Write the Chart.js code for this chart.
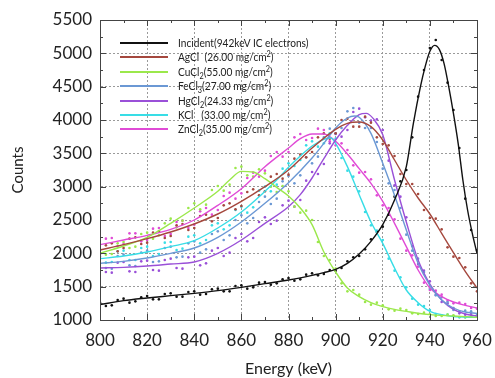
<!DOCTYPE html>
<html><head><meta charset="utf-8">
<script src="https://cdn.jsdelivr.net/npm/chart.js@4.4.1/dist/chart.umd.min.js"></script>
<style>
html,body{margin:0;padding:0;background:#fff;}
#wrap{position:relative;width:495px;height:378px;}
#legend{position:absolute;left:120px;top:36px;font-family:Lato,"DejaVu Sans",sans-serif;font-size:11.8px;color:#222;}
.row{height:14.4px;line-height:14.4px;white-space:nowrap;}
.sw{display:inline-block;width:48px;height:2px;margin-right:10px;vertical-align:middle;position:relative;top:-1px;}
.tx{display:inline-block;transform:scaleX(0.86);transform-origin:0 50%;}
.sb{font-size:8.5px;position:relative;top:3px;}
.sp{font-size:8.5px;position:relative;top:-4px;}
</style></head><body>
<div id="wrap"><canvas id="c" width="495" height="378"></canvas>
<div id="legend">
<div class="row"><span class="sw" style="background:#111"></span><span class="tx">Incident(942keV IC electrons)</span></div>
<div class="row"><span class="sw" style="background:#a5483e"></span><span class="tx">AgCl&nbsp; (26.00 mg/cm<span class="sp">2</span>)</span></div>
<div class="row"><span class="sw" style="background:#9be84b"></span><span class="tx">CuCl<span class="sb">2</span>(55.00 mg/cm<span class="sp">2</span>)</span></div>
<div class="row"><span class="sw" style="background:#6b98d4"></span><span class="tx">FeCl<span class="sb">3</span>(27.00 mg/cm<span class="sp">2</span>)</span></div>
<div class="row"><span class="sw" style="background:#9a50d8"></span><span class="tx">HgCl<span class="sb">2</span>(24.33 mg/cm<span class="sp">2</span>)</span></div>
<div class="row"><span class="sw" style="background:#38dde6"></span><span class="tx">KCl&nbsp;&nbsp; (33.00 mg/cm<span class="sp">2</span>)</span></div>
<div class="row"><span class="sw" style="background:#e04bd6"></span><span class="tx">ZnCl<span class="sb">2</span>(35.00 mg/cm<span class="sp">2</span>)</span></div>
</div></div>
<script>
// ---- fitted curves (energy in keV, counts) ----
const incidentEnergy = [800,810,820,830,840,850,860,870,880,890,895,900,905,910,915,920,925,930,933,936,938,940,942,944,946,948,950,952,954,956,958,960];
const incidentCounts = [1230,1290,1330,1365,1400,1440,1490,1545,1600,1670,1710,1760,1850,1990,2180,2430,2800,3300,3950,4500,4800,5030,5120,5060,4850,4500,4100,3650,3100,2650,2300,2000];

const agclEnergy = [800,810,820,830,840,850,860,870,880,890,900,905,910,915,920,925,930,935,940,945,950,955,960];
const agclCounts = [2050,2130,2220,2320,2440,2590,2780,3000,3250,3580,3860,3950,3970,3900,3700,3400,3100,2830,2590,2300,2010,1730,1480];

const cucl2Energy = [800,810,820,830,840,850,855,860,865,870,875,880,885,890,895,900,905,910,915,920,925,930,940,950,960];
const cucl2Counts = [2000,2110,2240,2450,2680,2930,3100,3230,3220,3120,2990,2860,2680,2430,2020,1720,1480,1350,1260,1200,1160,1130,1080,1060,1040];

const fecl3Energy = [800,810,820,830,840,850,860,870,880,890,895,900,905,908,910,915,920,925,930,935,940,945,950,955,960];
const fecl3Counts = [1850,1880,1930,2000,2080,2240,2470,2750,3060,3430,3650,3880,4030,4060,4040,3800,3350,2870,2350,1850,1520,1300,1180,1120,1100];

const hgcl2Energy = [800,810,820,830,840,850,860,870,880,885,890,895,900,905,910,913,916,920,925,930,935,940,945,950,955,960];
const hgcl2Counts = [1780,1790,1810,1840,1870,2000,2200,2450,2700,2880,3130,3420,3700,3920,4080,4100,4020,3780,3100,2470,1900,1540,1300,1160,1090,1060];

const kclEnergy = [800,810,820,830,840,850,860,870,875,880,885,890,895,898,900,905,910,915,920,925,930,935,940,945,950,960];
const kclCounts = [1920,1960,2020,2100,2190,2380,2620,2930,3100,3290,3460,3610,3710,3730,3650,3300,2880,2470,2150,1780,1450,1260,1130,1080,1050,1040];

const zncl2Energy = [800,810,820,830,840,850,860,870,880,885,890,895,900,905,910,915,920,925,930,935,940,945,950,955,960];
const zncl2Counts = [2130,2200,2270,2360,2500,2720,2970,3300,3580,3720,3790,3790,3680,3490,3270,3050,2780,2450,2100,1750,1480,1350,1270,1220,1180];

// ---- measured points, set A (half-step energies) ----
const measEnergyA = [802.5,807.5,812.5,817.5,822.5,827.5,832.5,837.5,842.5,847.5,852.5,857.5,862.5,867.5,872.5,877.5,882.5,887.5,892.5,897.5,902.5,907.5,912.5,917.5,922.5,927.5,932.5,937.5,942.5,947.5,952.5,957.5];
const incidentMeasA = [1210,1300,1260,1340,1310,1390,1350,1420,1380,1460,1430,1510,1470,1560,1530,1610,1590,1680,1670,1750,1780,1940,2060,2320,2580,3080,3740,4750,5200,4560,3580,2350];
const agclMeasA = [2120,2030,2220,2140,2310,2230,2420,2350,2560,2480,2720,2660,2920,2870,3150,3120,3420,3440,3740,3720,4000,3900,4050,3740,3620,3190,3040,2650,2520,2090,1930,1550];
const cucl2MeasA = [1980,2150,2080,2290,2220,2450,2390,2680,2660,2950,2940,3280,3170,3260,3000,3010,2700,2640,2170,1900,1550,1450,1270,1260,1160,1170,1100,1110,1060,1080,1045,1060];
const fecl3MeasA = [1780,1960,1820,2010,1870,2080,1940,2150,2010,2290,2200,2500,2450,2770,2740,3080,3050,3440,3450,3870,3880,4180,3880,3670,3050,2680,2040,1720,1370,1270,1130,1130];
const hgcl2MeasA = [1720,1860,1730,1880,1750,1900,1780,1940,1820,2040,1960,2230,2180,2470,2440,2720,2700,3090,3190,3650,3750,4120,4040,4010,3390,2850,2110,1740,1380,1250,1100,1090];
const kclMeasA = [1860,2030,1900,2080,1960,2160,2050,2250,2150,2420,2360,2650,2610,2940,2930,3270,3310,3620,3600,3800,3430,3150,2620,2340,1920,1640,1320,1210,1090,1080,1040,1050];
const zncl2MeasA = [2220,2110,2300,2180,2370,2260,2470,2380,2630,2580,2860,2820,3130,3150,3460,3450,3740,3700,3870,3680,3650,3320,3220,2870,2680,2220,1970,1560,1440,1290,1260,1180];

// ---- measured points, set B (whole-step energies) ----
const measEnergyB = [800,805,810,815,820,825,830,835,840,845,850,855,860,865,870,875,880,885,890,895,900,905,910,915,920,925,930,935,940,945,950,955,960];
const incidentMeasB = [1260,1220,1320,1280,1360,1310,1400,1350,1430,1390,1470,1430,1520,1490,1570,1550,1630,1610,1700,1690,1740,1880,1960,2210,2400,2850,3250,4350,5080,4900,4150,2820,2050];
const agclMeasB = [1990,2150,2080,2240,2160,2330,2260,2440,2380,2580,2530,2750,2710,2960,2930,3190,3180,3480,3520,3800,3800,4020,3900,3960,3640,3460,3040,2890,2530,2360,1950,1790,1430];
const cucl2MeasB = [2060,1990,2170,2100,2310,2270,2520,2490,2750,2730,3010,3030,3300,3150,3200,2920,2930,2610,2500,1960,1770,1430,1380,1230,1220,1140,1150,1090,1090,1060,1070,1040,1050];
const fecl3MeasB = [1950,1770,1980,1810,2040,1880,2100,1950,2180,2060,2330,2270,2570,2530,2850,2820,3160,3170,3350,3740,3800,4130,3960,3880,3270,2950,2280,1920,1470,1340,1150,1140,1090];
const hgcl2MeasB = [1850,1710,1870,1720,1890,1740,1920,1770,1950,1850,2080,2010,2290,2230,2540,2490,2790,2800,3220,3340,3790,3850,4170,3990,3850,3020,2540,1840,1580,1270,1180,1080,1070];
const kclMeasB = [2000,1870,2040,1900,2100,1990,2170,2070,2270,2200,2450,2420,2700,2690,3000,3030,3350,3400,3680,3650,3720,3240,2930,2420,2200,1740,1490,1230,1150,1070,1060,1040,1050];
const zncl2MeasB = [2060,2230,2140,2300,2200,2380,2290,2490,2430,2680,2650,2910,2900,3210,3240,3520,3520,3790,3730,3850,3620,3550,3210,3110,2720,2510,2040,1800,1450,1380,1250,1240,1170];

const seriesNames = ['Incident','AgCl','CuCl2','FeCl3','HgCl2','KCl','ZnCl2'];
const seriesColors = ['#111111','#a5483e','#9be84b','#6b98d4','#9a50d8','#38dde6','#e04bd6'];
const xTicks = [800,820,840,860,880,900,920,940,960];
const yTicks = [1000,1500,2000,2500,3000,3500,4000,4500,5000,5500];

const fits = [[incidentEnergy,incidentCounts],[agclEnergy,agclCounts],[cucl2Energy,cucl2Counts],[fecl3Energy,fecl3Counts],[hgcl2Energy,hgcl2Counts],[kclEnergy,kclCounts],[zncl2Energy,zncl2Counts]];
const measA = [incidentMeasA,agclMeasA,cucl2MeasA,fecl3MeasA,hgcl2MeasA,kclMeasA,zncl2MeasA];
const measB = [incidentMeasB,agclMeasB,cucl2MeasB,fecl3MeasB,hgcl2MeasB,kclMeasB,zncl2MeasB];

const datasets = [];
fits.forEach((f,i)=>{
  datasets.push({label:seriesNames[i]+' fit', data:f[0].map((e,k)=>({x:e,y:f[1][k]})), showLine:true,
    borderColor:seriesColors[i], borderWidth:1.4, pointRadius:0, tension:0.4, cubicInterpolationMode:'monotone', fill:false});
});
[[measEnergyA,measA],[measEnergyB,measB]].forEach(([en,set])=>{
  set.forEach((m,i)=>{
    datasets.push({label:seriesNames[i]+' data', data:en.map((e,k)=>({x:e,y:m[k]})), showLine:false,
      pointRadius:1.3, pointBackgroundColor:seriesColors[i], pointBorderWidth:0, borderColor:seriesColors[i]});
  });
});

const frameTicks = {
  id:'frameTicks',
  afterDatasetsDraw(chart){
    const {ctx, chartArea:a, scales:{x,y}} = chart;
    ctx.save();
    ctx.strokeStyle='#444'; ctx.lineWidth=1;
    ctx.strokeRect(Math.round(a.left)+0.5, Math.round(a.top)+0.5, Math.round(a.right-a.left), Math.round(a.bottom-a.top));
    ctx.beginPath();
    for(let e=x.min+10;e<x.max;e+=10){
      const px=Math.round(x.getPixelForValue(e))+0.5, L=(e%20===0)?6:3;
      ctx.moveTo(px,a.bottom); ctx.lineTo(px,a.bottom-L);
      ctx.moveTo(px,a.top); ctx.lineTo(px,a.top+L);
    }
    for(let c=y.min+250;c<y.max;c+=250){
      const py=Math.round(y.getPixelForValue(c))+0.5, L=(c%500===0)?6:3;
      ctx.moveTo(a.left,py); ctx.lineTo(a.left+L,py);
      ctx.moveTo(a.right,py); ctx.lineTo(a.right-L,py);
    }
    ctx.stroke();
    ctx.restore();
  }
};

new Chart(document.getElementById('c'),{
  type:'scatter',
  data:{datasets},
  options:{
    responsive:false, animation:false, devicePixelRatio:1,
    layout:{padding:{left:0,right:18,top:20,bottom:0}},
    plugins:{legend:{display:false},tooltip:{enabled:false}},
    scales:{
      x:{type:'linear',min:800,max:960,
        afterBuildTicks(s){s.ticks=xTicks.map(v=>({value:v}));},
        afterFit(s){s.height=58;s.paddingLeft=0;s.paddingRight=0;},
        ticks:{font:{family:'Lato',size:17},color:'#222',padding:10,callback:v=>String(v)},
        grid:{color:'#9a9a9a',drawTicks:false},
        border:{display:true,color:'#444',dash:[2,2]},
        title:{display:true,text:'Energy (keV)',font:{family:'Lato',size:16},color:'#222',padding:{top:0,bottom:0}}
      },
      y:{type:'linear',min:1000,max:5500,
        afterBuildTicks(s){s.ticks=yTicks.map(v=>({value:v}));},
        afterFit(s){s.width=100;s.paddingTop=0;s.paddingBottom=0;},
        ticks:{font:{family:'Lato',size:17},color:'#222',padding:8,callback:v=>String(v)},
        grid:{color:'#9a9a9a',drawTicks:false},
        border:{display:true,color:'#444',dash:[2,2]},
        title:{display:true,text:'Counts',font:{family:'Lato',size:15},color:'#222',padding:{top:9,bottom:0}}
      }
    }
  },
  plugins:[frameTicks]
});
</script>
</body></html>
